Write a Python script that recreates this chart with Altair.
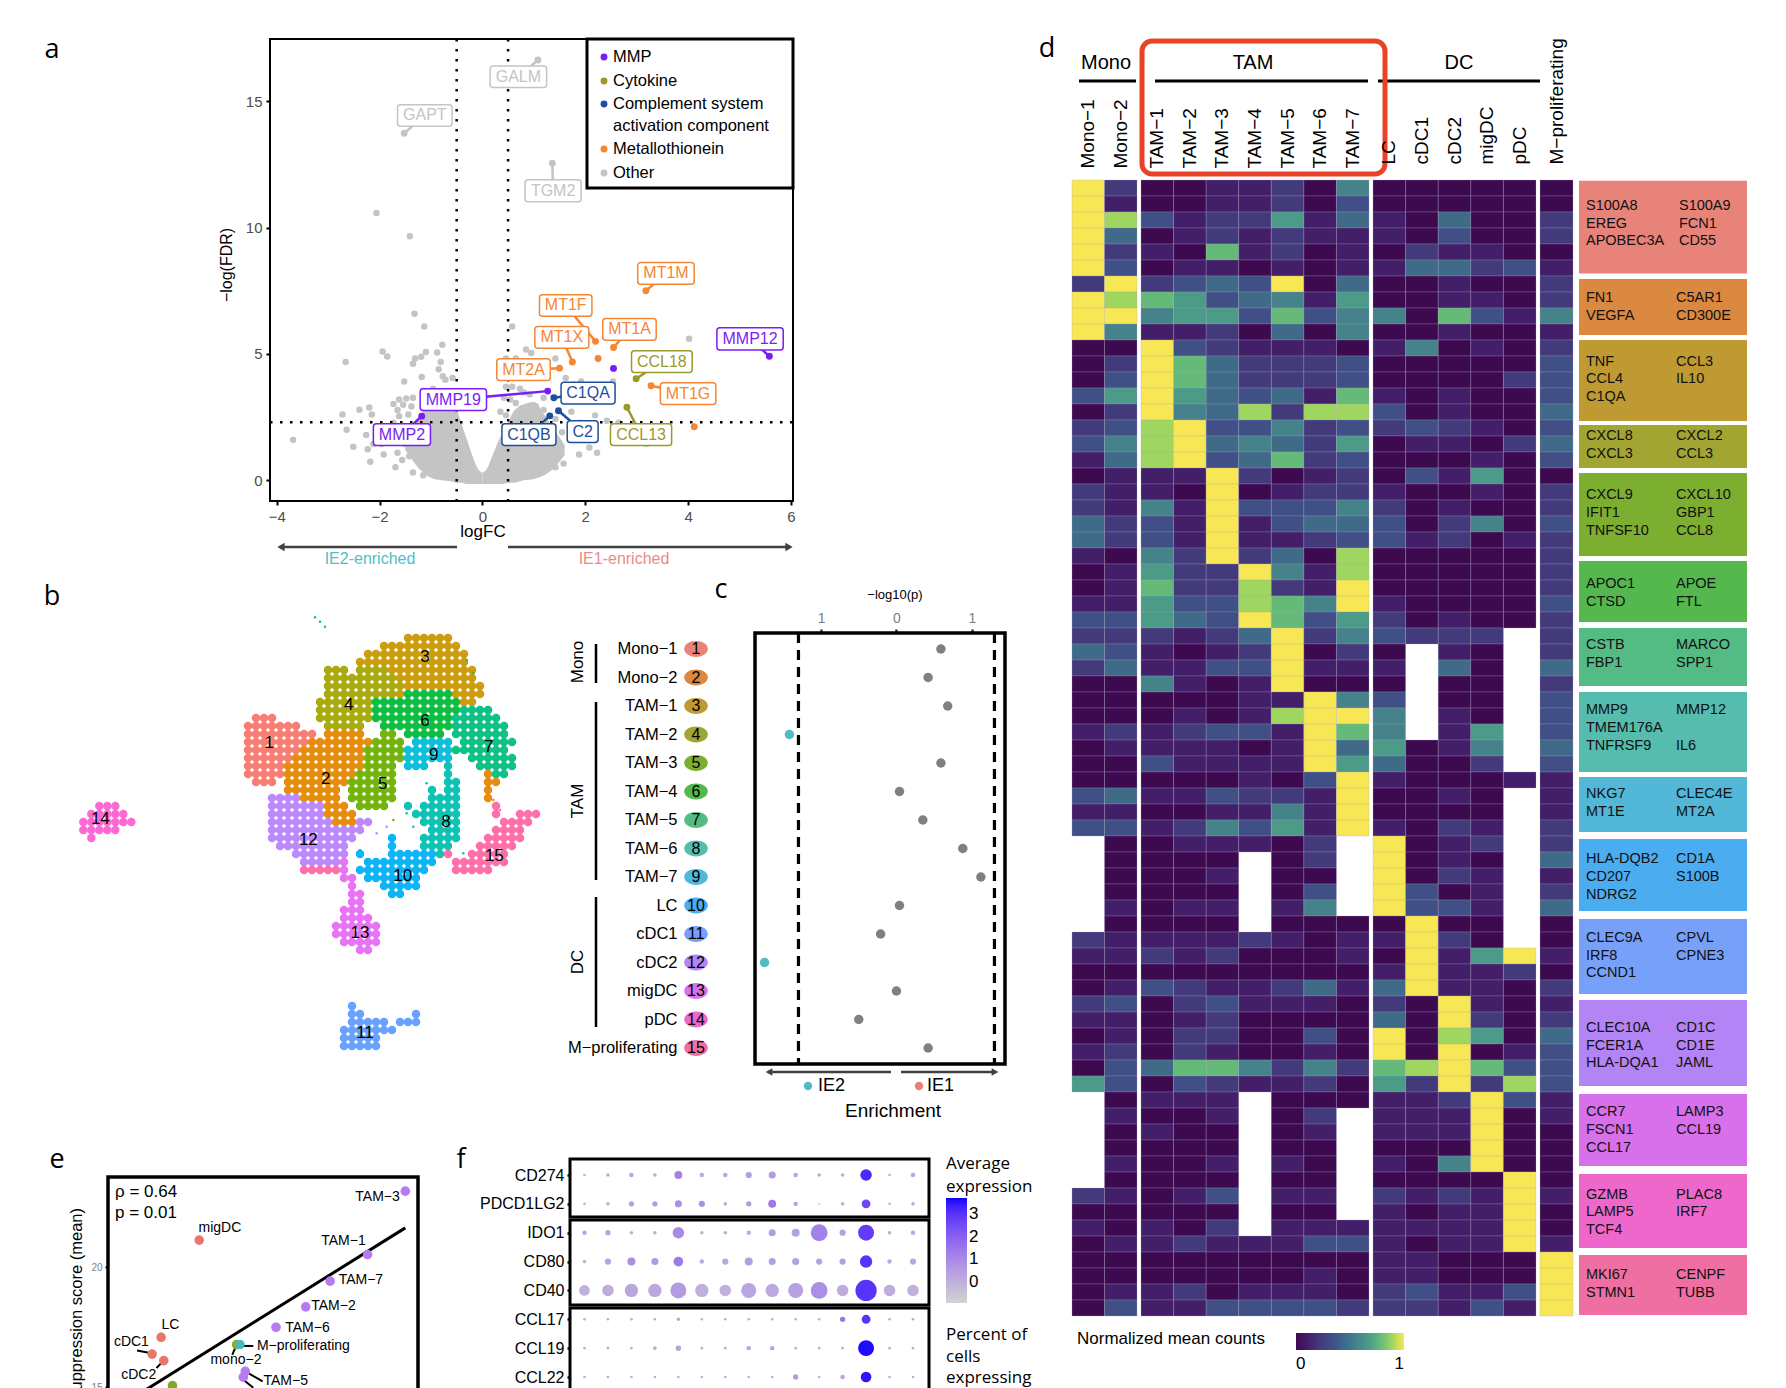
import altair as alt
import pandas as pd

W, H = 1770, 1380
SANS = "Liberation Sans"
HUM = "Open Sans"
PX = alt.Scale(domain=[0, 1786], range=[-8, 1778])
PY = alt.Scale(domain=[0, 1388], range=[-8, 1380])
layers = []


def T(rows, size=16, color="black", font=SANS, align="center", angle=0, baseline="middle"):
    df = pd.DataFrame(rows, columns=["t", "x", "y"])
    layers.append(
        alt.Chart(df)
        .mark_text(fontSize=size, color=color, font=font, align=align, angle=angle, baseline=baseline)
        .encode(x=alt.X("x:Q", scale=PX, axis=None), y=alt.Y("y:Q", scale=PY, axis=None), text="t:N")
    )


def SEG(rows, sw=2, color="black", dash=None):
    df = pd.DataFrame(rows, columns=["x", "y", "x1", "y1"])
    kw = {"strokeDash": dash} if dash else {}
    layers.append(
        alt.Chart(df)
        .mark_rule(strokeWidth=sw, color=color, **kw)
        .encode(
            x=alt.X("x:Q", scale=PX, axis=None), y=alt.Y("y:Q", scale=PY, axis=None),
            x2="x1:Q", y2="y1:Q",
        )
    )


def BOX(rows, sw=3, stroke="black", fill=None, radius=0):
    df = pd.DataFrame(rows, columns=["x", "y", "x1", "y1"])
    kw = {"fill": fill} if fill else {"fill": "white", "fillOpacity": 0}
    layers.append(
        alt.Chart(df)
        .mark_rect(stroke=stroke, strokeWidth=sw, cornerRadius=radius, **kw)
        .encode(
            x=alt.X("x:Q", scale=PX, axis=None), y=alt.Y("y:Q", scale=PY, axis=None),
            x2="x1:Q", y2="y1:Q",
        )
    )


def TRI(rows, shape, color="#404040", size=70):
    df = pd.DataFrame(rows, columns=["x", "y"])
    layers.append(
        alt.Chart(df)
        .mark_point(shape=shape, filled=True, size=size, color=color, opacity=1)
        .encode(x=alt.X("x:Q", scale=PX, axis=None), y=alt.Y("y:Q", scale=PY, axis=None))
    )


def DOT(rows, color, size=40):
    TRI(rows, "circle", color, size)


# ---------------- panel a: volcano ----------------
A_X = alt.Scale(domain=[-4.13, 6.04], range=[262, 785], nice=False, zero=False)
A_Y = alt.Scale(domain=[-0.82, 17.47], range=[493, 31], nice=False, zero=False)
A_GRAY_X = [-3.68, -2.66, -2.72, -2.64, -2.51, -2.39, -2.26, -2.2, -2.15, -2.23, -2.18, -1.94, -1.85, -2.06, -1.41,
            -1.32, -1.13, -0.78, -1.73, -1.62, -1.48, -1.35, -1.65, -1.54, -1.38, -1.44, -1.62, -1.73, -1.96, -1.92,
            -2.12, -1.65, -1.56, -1.69, -1.42, -1.35, -1.19, -1.15, -1.35, -1.5, -1.81, -1.31, -1.19, -1.1, -0.88,
            -0.81, -0.85, -0.77, -0.58, -0.72, -1.18, -1.52, -1.35, -1.15, -1.04, -0.96, -1.05, -0.9, -0.7, -0.55,
            0.58, 0.85, 0.95, 0.65, 0.46, 0.77, 1.04, 1.27, 1.42, 0.46, 0.58, 0.73, 0.81, 0.92, 0.42, 0.54, 0.65,
            0.77, 0.88, 1.04, 1.19, 0.35, 0.46, 0.62, 0.81, 1.19, 1.42, 1.92, 2.54, 2.42, 1.88, 1.81, 2.08, 2.23,
            1.88, 1.58, 1.42, 1.27, 1.12, 3.19, 2.19, 2.65, 1.73, 1.73, 1.42, 1.19, 1.62, 4.02, 1.55, 1.3, 1.0]
A_GRAY_Y = [1.6, 4.68, 2.6, 2.0, 1.33, 2.79, 1.79, 2.88, 2.6, 1.23, 0.73, 5.1, 4.9, 10.58, 9.66,
            6.59, 6.09, 5.37, 3.02, 3.2, 3.24, 3.27, 2.78, 2.99, 2.92, 2.6, 2.54, 2.28, 1.44, 1.02,
            1.44, 1.09, 0.8, 0.52, 0.95, 0.31, 0.59, 0.2, 1.37, 1.44, 1.65, 4.82, 4.89, 5.08, 5.06,
            4.68, 4.4, 4.12, 4.05, 3.98, 4.09, 3.91, 4.61, 3.55, 3.48, 3.62, 3.0, 3.3, 3.4, 3.1,
            6.09, 5.18, 5.04, 4.82, 4.82, 4.61, 4.68, 4.61, 4.82, 3.7, 3.7, 3.62, 3.48, 3.41, 3.27, 3.2, 3.06,
            2.85, 2.78, 2.92, 2.78, 2.71, 2.57, 2.43, 2.28, 2.43, 2.43, 3.91, 3.91, 2.36, 2.28, 1.86, 1.3, 1.09,
            1.02, 0.66, 0.52, 0.87, 1.3, 1.44, 2.57, 2.28, 2.71, 1.72, 1.58, 3.27, 4.05, 5.6, 1.9, 2.0, 2.6]
WING_L_X = [-1.5, -1.4, -1.2, -1.0, -0.8, -0.6, -0.5, -0.4, -0.3, -0.2, -0.1, 0.0]
WING_L_LO = [1.2, 0.9, 0.4, 0.1, 0.0, -0.05, -0.1, -0.1, -0.15, -0.15, -0.15, -0.15]
WING_L_HI = [1.5, 1.9, 2.6, 3.1, 3.2, 3.0, 2.8, 2.2, 1.6, 1.0, 0.5, 0.3]
WING_R_X = [0.0, 0.1, 0.2, 0.3, 0.4, 0.5, 0.6, 0.8, 1.0, 1.2, 1.4, 1.6]
WING_R_LO = [-0.15, -0.15, -0.15, -0.15, -0.15, -0.1, -0.1, 0.0, 0.05, 0.2, 0.5, 1.0]
WING_R_HI = [0.3, 0.5, 1.0, 1.5, 1.9, 2.3, 2.7, 3.0, 3.1, 2.6, 2.0, 1.4]

VOL_GROUPS = ["MMP", "Cytokine", "Complement", "Metallothionein", "Other"]
VOL_COLORS = ["#7a1cf7", "#9a9a2a", "#1f4e9c", "#f58634", "#c4c4c4"]
VOL_NAME = ["GALM", "GAPT", "TGM2", "MT1M", "MT1F", "MT1A", "MT1X", "MT2A", "CCL18", "MT1G", "MMP12", "C1QA", "MMP19",
            "MMP2", "C1QB", "C2", "CCL13"]
VOL_GROUP = ["Other", "Other", "Other", "Metallothionein", "Metallothionein", "Metallothionein", "Metallothionein",
             "Metallothionein", "Cytokine", "Metallothionein", "MMP", "Complement", "MMP", "MMP", "Complement",
             "Complement", "Cytokine"]
VOL_PX = [1.08, -1.52, 1.36, 3.18, 2.2, 2.55, 1.75, 1.5, 2.99, 3.28, 5.58, 1.39, 1.27, -1.18, 1.31, 1.48, 2.81]
VOL_PY = [16.64, 13.74, 12.55, 7.5, 5.5, 5.26, 4.68, 4.44, 4.02, 3.74, 4.91, 3.27, 3.53, 2.54, 2.55, 2.75, 2.89]
VOL_X0 = [0.15, -1.65, 0.83, 3.02, 1.11, 2.34, 1.02, 0.28, 2.9, 3.46, 4.56, 1.53, -1.21, -2.12, 0.38, 1.65, 2.49]
VOL_X1 = [1.25, -0.59, 1.92, 4.12, 2.13, 3.38, 2.07, 1.32, 4.08, 4.54, 5.85, 2.58, 0.08, -1.01, 1.43, 2.25, 3.68]
VOL_Y0 = [15.55, 14.02, 11.03, 7.76, 6.49, 5.54, 5.23, 3.95, 4.27, 3.0, 5.16, 3.02, 2.76, 1.38, 1.38, 1.5, 1.38]
VOL_Y1 = [16.4, 14.87, 11.9, 8.62, 7.35, 6.4, 6.09, 4.81, 5.13, 3.86, 6.04, 3.88, 3.62, 2.24, 2.24, 2.36, 2.24]
EXTRA_X = [2.55, 2.25, 4.12]
EXTRA_Y = [4.43, 4.82, 2.12]
EXTRA_G = ["MMP", "Metallothionein", "Metallothionein"]

vx = lambda s="x:Q": alt.X(s, scale=A_X, axis=None)
vy = lambda s="y:Q": alt.Y(s, scale=A_Y, axis=None)
for wx, lo, hi in [(WING_L_X, WING_L_LO, WING_L_HI), (WING_R_X, WING_R_LO, WING_R_HI)]:
    layers.append(
        alt.Chart(pd.DataFrame({"x": wx, "y": lo, "y1": hi}))
        .mark_area(color="#c4c4c4", interpolate="monotone", opacity=1)
        .encode(x=vx(), y=vy(), y2="y1:Q")
    )
layers.append(
    alt.Chart(pd.DataFrame({"x": A_GRAY_X, "y": A_GRAY_Y}))
    .mark_circle(size=42, color="#c4c4c4", opacity=1)
    .encode(
        x=alt.X("x:Q", scale=A_X, axis=alt.Axis(orient="bottom", offset=-887, values=[-4, -2, 0, 2, 4, 6], title=None,
                                                domain=False, tickColor="black", tickWidth=2, tickSize=4,
                                                labelColor="#4d4d4d", labelFontSize=15, labelFont=SANS, labelPadding=4)),
        y=alt.Y("y:Q", scale=A_Y, axis=alt.Axis(orient="left", offset=-262, values=[0, 5, 10, 15], title=None,
                                                domain=False, tickColor="black", tickWidth=2, tickSize=4,
                                                labelColor="#4d4d4d", labelFontSize=15, labelFont=SANS, labelPadding=4)),
    )
)
layers.append(
    alt.Chart(pd.DataFrame({"v": [-0.5, 0.5]}))
    .mark_rule(color="black", strokeWidth=2.5, strokeDash=[2.5, 7.5])
    .encode(x=alt.X("v:Q", scale=A_X, axis=None), y=alt.value(31), y2=alt.value(493))
)
layers.append(
    alt.Chart(pd.DataFrame({"v": [2.3]}))
    .mark_rule(color="black", strokeWidth=2.5, strokeDash=[2.5, 7.5])
    .encode(y=alt.Y("v:Q", scale=A_Y, axis=None), x=alt.value(262), x2=alt.value(785))
)
vc = alt.Color("g:N", scale=alt.Scale(domain=VOL_GROUPS, range=VOL_COLORS), legend=None)
vol = pd.DataFrame({"n": VOL_NAME, "g": VOL_GROUP, "px": VOL_PX, "py": VOL_PY,
                    "x0": VOL_X0, "x1": VOL_X1, "y0": VOL_Y0, "y1": VOL_Y1})
vol["tx"] = (vol.x0 + vol.x1) / 2
vol["ty"] = (vol.y0 + vol.y1) / 2
layers.append(alt.Chart(vol).mark_rule(strokeWidth=2.5).encode(x=vx("px:Q"), y=vy("py:Q"), x2="tx:Q", y2="ty:Q", color=vc))
layers.append(alt.Chart(vol).mark_circle(size=48, opacity=1).encode(x=vx("px:Q"), y=vy("py:Q"), color=vc))
layers.append(
    alt.Chart(pd.DataFrame({"x": EXTRA_X, "y": EXTRA_Y, "g": EXTRA_G}))
    .mark_circle(size=48, opacity=1).encode(x=vx(), y=vy(), color=vc)
)
layers.append(
    alt.Chart(vol).mark_rect(fill="white", cornerRadius=3, strokeWidth=1.5, fillOpacity=1)
    .encode(x=vx("x0:Q"), x2="x1:Q", y=vy("y0:Q"), y2="y1:Q", stroke=alt.Stroke("g:N", scale=alt.Scale(domain=VOL_GROUPS, range=VOL_COLORS), legend=None))
)
layers.append(
    alt.Chart(vol).mark_text(fontSize=16, font=SANS)
    .encode(x=vx("tx:Q"), y=vy("ty:Q"), text="n:N", color=vc)
)
BOX([(270, 39, 793, 501)], sw=2)
BOX([(587, 39, 793, 188)], sw=3, fill="white")
for yy, cc in [(57, "#7a1cf7"), (81, "#9a9a2a"), (104, "#1f4e9c"), (149, "#f58634"), (173, "#c4c4c4")]:
    DOT([(604, yy)], cc, 48)
T([("MMP", 613, 57), ("Cytokine", 613, 81), ("Complement system", 613, 104), ("activation component", 613, 126),
   ("Metallothionein", 613, 149), ("Other", 613, 173)], size=16.5, align="left")
T([("−log(FDR)", 227, 265)], size=16, angle=270)
T([("logFC", 483, 532)], size=17)
SEG([(280, 547, 457, 547), (508, 547, 790, 547)], sw=2.5, color="#404040")
TRI([(281, 547)], "triangle-left")
TRI([(789, 547)], "triangle-right")
T([("IE2-enriched", 370, 559)], size=16, color="#4fbfc4")
T([("IE1-enriched", 624, 559)], size=16, color="#ee8a84")

# ---------------- panel b: UMAP ----------------
CLUSTER_COLORS = ["#F8766D", "#E58700", "#C99800", "#A3A500", "#6BB100", "#00BA38", "#00BF7D", "#00C0AF", "#00BCD8",
                  "#00B0F6", "#619CFF", "#B983FF", "#E76BF3", "#FD61D1", "#FF67A4"]
CLUSTER_KEYS = list("123456789abcdef")
UMAP_ROWS = [
    "",
    ".....................333333",
    "..................3333333333",
    "................3333333333333",
    "...............33333333333333",
    "...........444.44443333333333 3".replace(" ", ""),
    "...........4444444443333333333",
    "...........44444444443333333333",
    "...........44444444436666663333",
    "..........44444446666666666633",
    "..........444444466666666666" + "7777",
    "..111.....444444466666666667" + "77777",
    ".1111111...44444..666666666" + "7777777",
    ".111111111.22222..55.66666.7777777",
    ".11111111222222225555.99999.7777777",
    ".111111122222222555559999997" + "777777",
    ".11111122222222255555999999..777777",
    ".111112222222222.555.999..8...77777".replace(".555.", "5555."),
    ".11111222222222555 55......8....277".replace(" ", ""),
    "..111.22222222555555......88...22",
    "......2222222.555555....8.88...2",
    "....cccc22222.555555....8888...2",
    "....ccccccc222.5555..8.88888....f",
    "....ccccccc2222.......888888....f..fff",
    "....cccccccc222cc......88888.....ffff",
    "....cccccccccccc........8888....ffff",
    "....ccccccccccc....a...88888...fffff",
    ".....ccccccccc.....a...8888...fffff",
    ".......ccccccc.a...aaaaaa8f..fffff",
    "........cccccd..aaaaaaaaa..fffffff",
    "........fffffd.aaaaaaaaa...fffff",
    ".............dd.aaaaaaa",
    "..............d...aaaaa",
    "..............dd...aa",
    "..............dd",
    ".............ddd",
    ".............dddd",
    "............dddddd",
    "............dddddd",
    ".............ddddd",
    "...............dd",
    "", "", "", "", "", "",
    "..............b",
    "..............bb......b",
    "..............bbbbb.bbb",
    ".............bbbbbbb",
    ".............bbbbb",
    ".............bbbbb",
]
UMAP_14 = {22: "..eee", 23: ".eeeee", 24: "eeeeeee", 25: "eeeee", 26: ".e"}
UMAP_LABELS = ["1", "2", "3", "4", "5", "6", "7", "8", "9", "10", "11", "12", "13", "14", "15"]
UMAP_LX = [688, 857, 1155, 926, 1028, 1155, 1346, 1218, 1181, 1088, 975, 805, 960, 181, 1363]
UMAP_LY = [488, 598, 232, 376, 612, 422, 500, 725, 525, 888, 1360, 780, 1058, 717, 828]
UMAP_SPARSE_X = [825, 840, 855, 1280, 1300, 1345, 1360, 1100, 1120, 1160, 1180, 960, 980, 1010, 1040, 1060, 1380, 1250, 1270]
UMAP_SPARSE_Y = [112, 125, 140, 240, 280, 620, 660, 700, 740, 610, 650, 810, 840, 760, 740, 720, 690, 620, 820]
UMAP_SPARSE_K = ["8", "8", "8", "7", "7", "2", "2", "8", "8", "8", "8", "a", "a", "c", "c", "5", "f", "8", "8"]

pts = []
for r, line in enumerate(UMAP_ROWS):
    for c, ch in enumerate(line):
        if ch != ".":
            pts.append((600 + 24 * c, 150 + 24 * r, ch))
for r, line in UMAP_14.items():
    for c, ch in enumerate(line):
        if ch != ".":
            pts.append((130 + 24 * c, 150 + 24 * r, ch))
U_X = alt.Scale(domain=[0, 1560], range=[32, 552])
U_Y = alt.Scale(domain=[0, 1380], range=[572, 1032])
ucol = alt.Color("k:N", scale=alt.Scale(domain=CLUSTER_KEYS, range=CLUSTER_COLORS), legend=None)
layers.append(
    alt.Chart(pd.DataFrame(pts, columns=["x", "y", "k"])).mark_circle(size=72, opacity=0.95)
    .encode(x=alt.X("x:Q", scale=U_X, axis=None), y=alt.Y("y:Q", scale=U_Y, axis=None), color=ucol)
)
layers.append(
    alt.Chart(pd.DataFrame({"x": UMAP_SPARSE_X, "y": UMAP_SPARSE_Y, "k": UMAP_SPARSE_K})).mark_circle(size=6, opacity=1)
    .encode(x=alt.X("x:Q", scale=U_X, axis=None), y=alt.Y("y:Q", scale=U_Y, axis=None), color=ucol)
)
layers.append(
    alt.Chart(pd.DataFrame({"x": UMAP_LX, "y": UMAP_LY, "t": UMAP_LABELS})).mark_text(fontSize=17, font=SANS, color="black")
    .encode(x=alt.X("x:Q", scale=U_X, axis=None), y=alt.Y("y:Q", scale=U_Y, axis=None), text="t:N")
)

# ---------------- panel c ----------------
NAMES = ["Mono−1", "Mono−2", "TAM−1", "TAM−2", "TAM−3", "TAM−4", "TAM−5", "TAM−6", "TAM−7", "LC", "cDC1", "cDC2",
         "migDC", "pDC", "M−proliferating"]
ENRICH = [0.59, 0.42, 0.68, -1.42, 0.59, 0.04, 0.35, 0.88, 1.12, 0.04, -0.21, -1.75, 0.0, -0.5, 0.42]
ENRICH_SIDE = ["ns", "ns", "ns", "IE2", "ns", "ns", "ns", "ns", "ns", "ns", "ns", "IE2", "ns", "ns", "ns"]
NUMS = [str(i) for i in range(1, 16)]
BOX_COLORS = ["#E8837A", "#DB8840", "#BF9A33", "#A3A533", "#7CAE30", "#54B84F", "#55BB85", "#55BCAE", "#53B8D8",
              "#4BACF0", "#77A0F8", "#B384F5", "#D770EA", "#EE68CC", "#EF6FA3"]
C_X = alt.Scale(domain=[-1.89, 1.44], range=[746, 997], nice=False, zero=False)
C_Y = alt.Scale(type="band", domain=NAMES, range=[626.75, 1054.25], paddingInner=0, paddingOuter=0)
cdf = pd.DataFrame({"n": NAMES, "v": ENRICH, "s": ENRICH_SIDE, "num": NUMS})
layers.append(
    alt.Chart(pd.DataFrame({"v": [-1.3, 1.3]}))
    .mark_rule(color="black", strokeWidth=3.2, strokeDash=[10, 7])
    .encode(x=alt.X("v:Q", scale=C_X, axis=None), y=alt.value(625), y2=alt.value(1056))
)
layers.append(
    alt.Chart(cdf).mark_circle(size=90, opacity=1)
    .encode(
        x=alt.X("v:Q", scale=C_X, axis=alt.Axis(orient="top", offset=-625, values=[-1, 0, 1], title=None, domain=False,
                                                tickColor="#333333", tickWidth=2.5, tickSize=4, labelColor="#808080",
                                                labelFontSize=14, labelFont=SANS, labelPadding=4,
                                                labelExpr="abs(datum.value)")),
        y=alt.Y("n:N", scale=C_Y, axis=alt.Axis(orient="left", offset=-669, title=None, domain=False, ticks=False,
                                                labelColor="black", labelFontSize=16.5, labelFont=SANS, labelPadding=0,
                                                labelLimit=200)),
        color=alt.Color("s:N", scale=alt.Scale(domain=["ns", "IE2"], range=["#808080", "#4fbcc4"]), legend=None),
    )
)
ELLIPSE = "M-1,0 A1,0.67 0 1,1 1,0 A1,0.67 0 1,1 -1,0 Z"
layers.append(
    alt.Chart(cdf).mark_point(shape=ELLIPSE, filled=True, size=560, opacity=1)
    .encode(x=alt.value(688), y=alt.Y("n:N", scale=C_Y, axis=None),
            color=alt.Color("n:N", scale=alt.Scale(domain=NAMES, range=BOX_COLORS), legend=None))
)
layers.append(
    alt.Chart(cdf).mark_text(fontSize=16, font=SANS, color="black")
    .encode(x=alt.value(688), y=alt.Y("n:N", scale=C_Y, axis=None), text="num:N")
)
BOX([(755, 633, 1005, 1064)], sw=3.5)
SEG([(596, 644, 596, 683), (596, 702, 596, 880), (596, 897, 596, 1027)], sw=2.5)
T([("Mono", 578, 662), ("TAM", 578, 801), ("DC", 578, 962)], size=17, angle=270)
SEG([(768, 1072, 891, 1072), (901, 1072, 994, 1072)], sw=2.5, color="#404040")
TRI([(769, 1072)], "triangle-left", size=60)
TRI([(995, 1072)], "triangle-right", size=60)
DOT([(808, 1086)], "#4fbcc4", 70)
DOT([(919, 1086)], "#ee7f74", 70)
T([("IE2", 818, 1086), ("IE1", 927, 1086)], size=18, align="left")
T([("Enrichment", 893, 1111)], size=19)
T([("−log10(p)", 895, 595)], size=13)

# ---------------- panel d: heatmap ----------------
HEAT_MONO = NAMES[:2]
HEAT_TAM = NAMES[2:9]
HEAT_DC = NAMES[9:14]
HEAT_M = NAMES[14:]
HEAT = [
    "92 0011205 00000 0", "91 0011203 00000 0", "98 3122614 10400 2", "94 0121211 10300 2", "92 1071201 02110 0",
    "93 0110101 14423 1", "29 2343904 00100 2", "98 7634516 00110 2", "99 5663735 50731 5", "95 1120405 00100 1",
    "00 9321110 15010 2", "02 9742223 00000 3", "03 9742223 00002 3", "36 9643417 10100 3", "02 9548288 30100 4",
    "23 8933523 23210 3", "35 8945426 01102 4", "14 8934723 00010 3", "01 1192012 03160 0", "21 1090122 10010 2",
    "21 5193335 20100 2", "42 3191344 30250 3", "42 3191123 31201 2", "10 5292408 00000 2", "01 6229518 00000 2",
    "01 7228219 00000 2", "11 6338759 10000 3", "33 6439736 20100 2", "22 2124925 3222- 2", "43 1012902 0-10- 2",
    "24 1133911 1-40- 4", "00 5101900 0-00- 2", "00 0001195 3-00- 3", "00 0101899 5-10- 3", "12 1233197 5-16- 3",
    "01 1110194 6015- 4", "00 3111196 4002- 3", "00 0001039 10001 1", "34 1132219 0010- 1", "11 0011519 0000- 1",
    "33 1253619 1021- 2", "-0 011102- 9012- 2", "-0 000-02- 9010- 4", "-0 001-00- 9021- 1", "-0 000-03- 9301- 2",
    "-1 011-15- 9331- 4", "-0 000-000 0900- 0", "21 1112101 1920- 0", "11 2120001 09169 1", "00 0000000 19112 0",
    "01 3211241 49110 2", "23 0231110 20910 1", "11 0120000 40920 2", "01 0220030 90860 4", "12 0210010 90901 3",
    "03 4775252 78973 3", "63 0321120 62928 3", "-0 111-000 11293 1", "-1 001-02- 11190 1", "-0 100-01- 11190 0",
    "-0 000-00- 00090 0", "-1 001-10- 10590 0", "-0 000-00- 00009 0", "21 013-11- 21219 1", "00 000-00- 10119 0",
    "10 102-111 11119 0", "01 1211133 10119 1", "00 0000000 11000 9", "00 0000010 11000 9", "01 1201110 23113 9",
    "03 1133332 22131 9",
]
HEAT_COLORS = ["#3d0a50", "#431f6a", "#433a7c", "#404f86", "#3f6a88", "#45828a", "#4c9a88", "#65ba7a", "#9fd65f", "#f8e755"]
cells = []
for r, line in enumerate(HEAT):
    s = line.replace(" ", "")
    for n, ch in zip(NAMES, s):
        if ch != "-":
            cells.append((n, r, int(ch)))
cells = pd.DataFrame(cells, columns=["col", "row", "v"])
ROW_SCALE = alt.Scale(domain=list(range(71)), range=[172, 1308], paddingInner=0, paddingOuter=0)
HEAT_COLOR_SCALE = alt.Scale(domain=list(range(10)), range=HEAT_COLORS)
GROUPS = [(HEAT_MONO, 1072, 1137, 160, False), (HEAT_TAM, 1141, 1369, 160, False), (HEAT_DC, 1373, 1536, 156, False),
          (HEAT_M, 1540, 1573, 156, True)]
for cols, x0, x1, ax_y, with_legend in GROUPS:
    if with_legend:
        leg = alt.Legend(orient="none", legendX=1288, legendY=1325, direction="horizontal", title=None,
                         gradientLength=108, gradientThickness=17, values=[0, 9], labelFontSize=17, labelFont=SANS,
                         labelColor="black", labelExpr="datum.value == 0 ? '0' : '1'", tickCount=2, labelOffset=6)
    else:
        leg = None
    layers.append(
        alt.Chart(cells[cells.col.isin(cols)])
        .mark_rect(stroke="#a6a0c0", strokeWidth=0.5, strokeOpacity=0.55)
        .encode(
            x=alt.X("col:N", scale=alt.Scale(domain=cols, range=[x0 - 8, x1 - 8], paddingInner=0, paddingOuter=0),
                    axis=alt.Axis(orient="top", offset=-ax_y, title=None, domain=False, ticks=False, labelAngle=-90,
                                  labelFontSize=19, labelFont=SANS, labelColor="black", labelPadding=0,
                                  labelLimit=200)),
            y=alt.Y("row:O", scale=ROW_SCALE, axis=None),
            color=alt.Color("v:Q", scale=HEAT_COLOR_SCALE, legend=leg),
        )
    )
T([("Mono", 1106, 63), ("TAM", 1253, 63), ("DC", 1459, 63)], size=20)
SEG([(1079, 81, 1136, 81), (1155, 81, 1368, 81), (1378, 81, 1540, 81)], sw=3)
BOX([(1142, 41, 1385, 174)], sw=5, stroke="#ea4227", radius=10)
T([("Normalized mean counts", 1077, 1339)], size=17, align="left")

BOX_EDGES = [(180.7, 273.6), (279, 335), (340, 421), (425, 468), (473, 556), (561, 622), (628, 686), (692, 772),
             (777, 832), (839, 911), (919, 994), (1000, 1086), (1094, 1166), (1174, 1248), (1255, 1315)]
GENES_L = [["S100A8", "EREG", "APOBEC3A"], ["FN1", "VEGFA"], ["TNF", "CCL4", "C1QA"], ["CXCL8", "CXCL3"],
           ["CXCL9", "IFIT1", "TNFSF10"], ["APOC1", "CTSD"], ["CSTB", "FBP1"], ["MMP9", "TMEM176A", "TNFRSF9"],
           ["NKG7", "MT1E"], ["HLA-DQB2", "CD207", "NDRG2"], ["CLEC9A", "IRF8", "CCND1"],
           ["CLEC10A", "FCER1A", "HLA-DQA1"], ["CCR7", "FSCN1", "CCL17"], ["GZMB", "LAMP5", "TCF4"], ["MKI67", "STMN1"]]
GENES_R = [["S100A9", "FCN1", "CD55"], ["C5AR1", "CD300E"], ["CCL3", "IL10"], ["CXCL2", "CCL3"],
           ["CXCL10", "GBP1", "CCL8"], ["APOE", "FTL"], ["MARCO", "SPP1"], ["MMP12", "", "IL6"], ["CLEC4E", "MT2A"],
           ["CD1A", "S100B"], ["CPVL", "CPNE3"], ["CD1C", "CD1E", "JAML"], ["LAMP3", "CCL19"], ["PLAC8", "IRF7"],
           ["CENPF", "TUBB"]]
GENE_Y = [[206, 223.6, 241], [298, 316], [362, 379, 397], [436, 453.6], [495, 513, 531], [584, 602], [645, 663],
          [710, 727.7, 745.5], [793.6, 811.5], [859, 877, 895], [938, 956, 973], [1028, 1045.5, 1063],
          [1112, 1130, 1148], [1194.5, 1212, 1230], [1275, 1293]]
layers.append(
    alt.Chart(pd.DataFrame({"y": [e[0] for e in BOX_EDGES], "y1": [e[1] for e in BOX_EDGES], "n": NAMES,
                            "x": [1579] * 15, "x1": [1747] * 15}))
    .mark_rect(opacity=1)
    .encode(x=alt.X("x:Q", scale=PX, axis=None), x2="x1:Q", y=alt.Y("y:Q", scale=PY, axis=None), y2="y1:Q",
            color=alt.Color("n:N", scale=alt.Scale(domain=NAMES, range=BOX_COLORS), legend=None))
)
rows = []
for i in range(15):
    cx = 1679 if i == 0 else 1676
    for g, y in zip(GENES_L[i], GENE_Y[i]):
        rows.append((g, 1586, y))
    for g, y in zip(GENES_R[i], GENE_Y[i]):
        if g:
            rows.append((g, cx, y))
T(rows, size=14.5, align="left", color="#111111")

# ---------------- panel e ----------------
E_X = alt.Scale(domain=[205, 1133], range=[100, 410], nice=False, zero=False)
E_Y = alt.Scale(domain=[15, 20], range=[1379, 1259], nice=False, zero=False)
E_NAMES = ["TAM−3", "TAM−1", "TAM−7", "TAM−2", "TAM−6", "mono−2", "M−proliferating", "TAM−5", "TAM−4", "migDC", "LC",
           "cDC1", "cDC2", "TAM−x"]
E_PX = [1095, 982, 870, 797, 708, 590, 600, 616, 610, 478, 364, 337, 372, 398]
E_PY = [23.16, 20.52, 19.41, 18.34, 17.49, 16.77, 16.77, 15.65, 15.41, 21.12, 17.07, 16.37, 16.1, 15.06]
E_G = ["TAM", "TAM", "TAM", "TAM", "TAM", "Mono", "Prolif", "TAM", "TAM", "DC", "DC", "DC", "DC", "Other"]
E_TXT = ["TAM−3", "TAM−1", "TAM−7", "TAM−2", "TAM−6", "M−proliferating", "mono−2", "TAM−5", "migDC", "LC", "cDC1", "cDC2"]
E_TX = [1012, 910, 962, 880, 802, 790, 588, 737, 540, 392, 275, 297]
E_TY = [22.93, 21.1, 19.45, 18.37, 17.44, 16.71, 16.13, 15.23, 21.62, 17.58, 16.86, 15.51]
E_SEG_X0 = [292, 350, 590, 577, 625, 610]
E_SEG_Y0 = [16.52, 15.79, 16.71, 16.34, 15.58, 15.3]
E_SEG_X1 = [335, 372, 640, 590, 668, 640]
E_SEG_Y1 = [16.41, 16.1, 16.71, 16.77, 15.23, 14.97]
E_LINE_X = [205, 1095]
E_LINE_Y = [13.9, 21.63]
ex = lambda s="x:Q": alt.X(s, scale=E_X, axis=None)
ey = lambda s="y:Q": alt.Y(s, scale=E_Y, axis=None)
layers.append(
    alt.Chart(pd.DataFrame({"x": E_LINE_X, "y": E_LINE_Y})).mark_line(color="black", strokeWidth=3)
    .encode(
        x=ex(),
        y=alt.Y("y:Q", scale=E_Y, axis=alt.Axis(orient="left", offset=-100, values=[15, 20], title=None, domain=False,
                                                tickColor="black", tickWidth=2, tickSize=3, labelColor="#808080",
                                                labelFontSize=10, labelFont=SANS, labelPadding=3)),
    )
)
layers.append(
    alt.Chart(pd.DataFrame({"x": E_SEG_X0, "y": E_SEG_Y0, "x1": E_SEG_X1, "y1": E_SEG_Y1}))
    .mark_rule(color="black", strokeWidth=2).encode(x=ex(), y=ey(), x2="x1:Q", y2="y1:Q")
)
layers.append(
    alt.Chart(pd.DataFrame({"x": E_PX, "y": E_PY, "g": E_G})).mark_circle(size=92, opacity=1)
    .encode(x=ex(), y=ey(), color=alt.Color("g:N", scale=alt.Scale(domain=["TAM", "DC", "Mono", "Prolif", "Other"],
                                                                    range=["#b57bf0", "#e8776b", "#8aaa2a", "#4db8b8", "#7cab2a"]), legend=None))
)
layers.append(
    alt.Chart(pd.DataFrame({"x": E_TX, "y": E_TY, "t": E_TXT})).mark_text(fontSize=14, font=SANS, color="black")
    .encode(x=ex(), y=ey(), text="t:N")
)
BOX([(108, 1177, 418, 1480)], sw=3.5)
T([("ρ = 0.64", 115, 1192), ("p = 0.01", 115, 1213)], size=17, align="left")
T([("Immune suppression score (mean)", 77, 1208)], size=16.5, angle=270, align="right")

# ---------------- panel f ----------------
F_GENES = ["CD274", "PDCD1LG2", "IDO1", "CD80", "CD40", "CCL17", "CCL19", "CCL22"]
F_COLS = NUMS
F_SIZE = {
    "CD274": [3, 4, 5, 4, 9, 5, 5, 7, 8, 5, 4, 4, 13, 3, 5],
    "PDCD1LG2": [3, 4, 6, 6, 8, 7, 4, 6, 9, 5, 2, 4, 10, 3, 4],
    "IDO1": [5, 6, 4, 4, 13, 4, 4, 5, 8, 9, 19, 7, 18, 4, 5],
    "CD80": [4, 7, 9, 8, 11, 5, 7, 9, 8, 8, 7, 7, 14, 5, 7],
    "CD40": [12, 13, 15, 15, 18, 15, 13, 17, 15, 17, 19, 13, 24, 13, 13],
    "CCL17": [3, 3, 3, 3, 4, 3, 3, 3, 3, 3, 3, 6, 10, 3, 3],
    "CCL19": [3, 3, 3, 4, 6, 3, 3, 5, 5, 3, 3, 3, 18, 3, 3],
    "CCL22": [3, 3, 3, 3, 3, 3, 3, 3, 3, 6, 3, 5, 12, 3, 3],
}
F_EXPR = {
    "CD274": [0.0, 0.1, 0.3, 0.2, 1.2, 0.2, 0.3, 0.5, 0.6, 0.3, 0.2, 0.1, 3.2, 0.1, 0.3],
    "PDCD1LG2": [0.0, 0.1, 0.5, 0.6, 0.9, 0.9, 0.2, 0.6, 1.4, 0.4, 0.0, 0.1, 2.6, 0.0, 0.2],
    "IDO1": [0.3, 0.3, 0.1, 0.2, 1.0, 0.0, 0.1, 0.1, 0.5, 0.4, 1.2, 0.4, 2.8, 0.1, 0.2],
    "CD80": [0.0, 0.4, 0.9, 0.6, 1.4, 0.1, 0.3, 0.5, 0.5, 0.4, 0.4, 0.5, 3.0, 0.2, 0.3],
    "CD40": [0.0, 0.1, 0.3, 0.2, 0.6, 0.0, 0.0, 0.3, 0.2, 0.4, 0.9, 0.1, 3.0, 0.1, 0.0],
    "CCL17": [0.1, 0.1, 0.1, 0.1, 0.2, 0.1, 0.1, 0.1, 0.1, 0.1, 0.1, 1.5, 3.0, 0.1, 0.1],
    "CCL19": [0.1, 0.1, 0.1, 0.2, 0.4, 0.1, 0.1, 0.3, 0.4, 0.1, 0.1, 0.1, 3.6, 0.1, 0.1],
    "CCL22": [0.1, 0.1, 0.1, 0.1, 0.1, 0.1, 0.1, 0.1, 0.1, 0.5, 0.1, 0.3, 3.5, 0.1, 0.1],
}
frows = []
for g in F_GENES:
    for c, s, e in zip(F_COLS, F_SIZE[g], F_EXPR[g]):
        frows.append((g, c, s, e))
fdf = pd.DataFrame(frows, columns=["g", "c", "s", "e"])
layers.append(
    alt.Chart(fdf).mark_circle(opacity=1)
    .encode(
        x=alt.X("c:N", scale=alt.Scale(type="point", domain=F_COLS, range=[576.5, 905], padding=0), axis=None),
        y=alt.Y("g:N", scale=alt.Scale(type="point", domain=F_GENES, range=[1167, 1369], padding=0),
                axis=alt.Axis(orient="left", offset=-562, title=None, domain=False, tickColor="black", tickWidth=2.5,
                              tickSize=3, labelColor="black", labelFontSize=16, labelFont=SANS, labelPadding=3)),
        size=alt.Size("s:Q", scale=alt.Scale(type="pow", exponent=2, domain=[0, 24], range=[0, 452]), legend=None),
        color=alt.Color("e:Q", scale=alt.Scale(domain=[-0.92, 1.0, 3.7], range=["#d2d2d2", "#a98be6", "#0000ff"]),
                        legend=alt.Legend(orient="none", legendX=938, legendY=1190, title=None, gradientLength=105,
                                          gradientThickness=21, values=[0, 1, 2, 3], labelFontSize=17, labelFont=SANS,
                                          labelColor="black", direction="vertical", tickCount=4)),
    )
)
BOX([(570, 1159, 929, 1217), (570, 1220, 929, 1305), (570, 1308, 929, 1480)], sw=3)
T([("Average", 946, 1164), ("expression", 946, 1187), ("Percent of", 946, 1335), ("cells", 946, 1357),
   ("expressing", 946, 1378)], size=17, font=HUM, align="left")

# ---------------- panel letters ----------------
T([("a", 52, 50), ("b", 52, 597), ("c", 721, 590), ("d", 1047, 49), ("e", 57, 1160), ("f", 461, 1160)], size=27, font=HUM)

chart = (
    alt.layer(*layers)
    .resolve_scale(x="independent", y="independent", color="independent", size="independent", stroke="independent")
    .resolve_axis(x="independent", y="independent")
    .resolve_legend(color="independent", size="independent", stroke="independent")
    .properties(width=W, height=H, padding=0, autosize=alt.AutoSizeParams(type="none"), background="white")
    .configure_view(stroke=None)
    .configure_axis(grid=False)
)
chart.save("out.html", embed_options={"renderer": "svg", "actions": False})
